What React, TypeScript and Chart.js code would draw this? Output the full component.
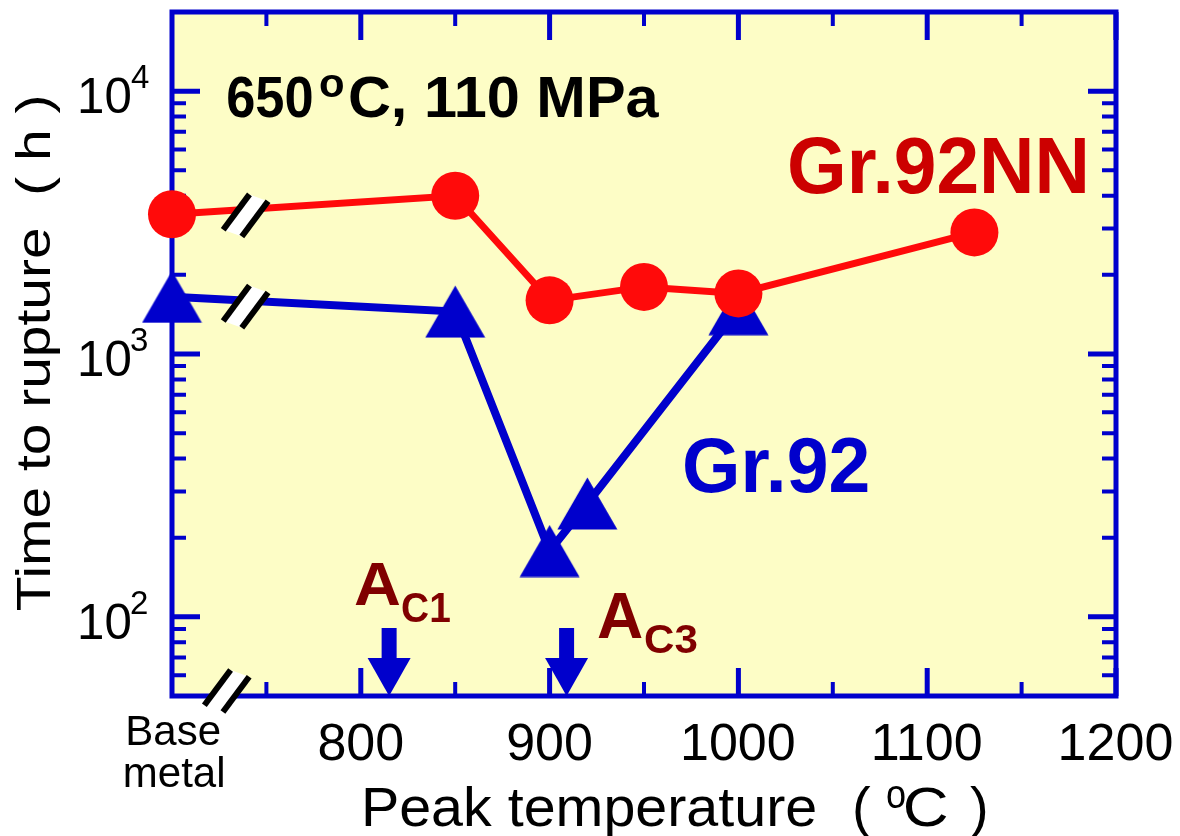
import React, { useEffect, useRef } from 'react';
import { Chart, registerables } from 'chart.js';

Chart.register(...registerables);

// ---- data ----
const nnTemps = [700, 850, 900, 950, 1000, 1125];
const nnHours = [3400, 4000, 1600, 1800, 1700, 2900];
const grTemps = [700, 850, 900, 920, 1000];
const grHours = [1650, 1450, 178, 270, 1480];

const xTickValues = [800, 900, 1000, 1100, 1200];
const xTickLabels = ['800', '900', '1000', '1100', '1200'];
const xMinorValues = [750, 850, 950, 1050, 1150];
const yMajorValues = [100, 1000, 10000];
const yTickExponents = ['2', '3', '4'];
const yMinorValues = [60, 70, 80, 90, 200, 300, 400, 500, 600, 700, 800, 900, 2000, 3000, 4000, 5000, 6000, 7000, 8000, 9000];
const acTemps = [815, 909];
const acSubs = ['C1', 'C3'];
const baseMetalLabel = ['Base', 'metal'];
const lineBreakTemp = 739;
const axisBreakTemp = 729;

const X_MIN = 700, X_MAX = 1200, Y_MIN = 50, Y_MAX = 20000;

const RED = '#FF0A0A';
const BLUE = '#0000CC';
const DARKRED = '#800000';
const TEXTRED = '#CC0000';
const BG = '#FDFDC6';
const FONT = '"Liberation Sans", Arial, sans-serif';

function ink(ctx: CanvasRenderingContext2D, text: string, x: number, baseline: number, font: string, color: string, opts: { anchor?: 'left' | 'right' | 'center'; width?: number } = {}) {
  ctx.save();
  ctx.font = font;
  ctx.fillStyle = color;
  ctx.textAlign = 'left';
  ctx.textBaseline = 'alphabetic';
  const m = ctx.measureText(text);
  const l = m.actualBoundingBoxLeft;
  const r = m.actualBoundingBoxRight;
  const inkW = l + r;
  const sx = opts.width ? opts.width / inkW : 1;
  const w = inkW * sx;
  let left = x;
  if (opts.anchor === 'right') left = x - w;
  else if (opts.anchor === 'center') left = x - w / 2;
  ctx.translate(left + l * sx, baseline);
  ctx.scale(sx, 1);
  ctx.fillText(text, 0, 0);
  ctx.restore();
}

function breakMark(ctx: CanvasRenderingContext2D, cx: number, cy: number) {
  const dx = 0.596, dy = -0.803;
  const px = 0.803, py = 0.596;
  const half = 22;
  const seg = (s: number, a: number) => {
    const ox = cx + px * s + dx * a;
    const oy = cy + py * s + dy * a;
    return [[ox - dx * half, oy - dy * half], [ox + dx * half, oy + dy * half]];
  };
  const a = seg(-9.5, -2.8);
  const b = seg(9.5, 2.8);
  ctx.save();
  ctx.fillStyle = '#FFFFFF';
  ctx.beginPath();
  ctx.moveTo(a[0][0], a[0][1]);
  ctx.lineTo(a[1][0], a[1][1]);
  ctx.lineTo(b[1][0], b[1][1]);
  ctx.lineTo(b[0][0], b[0][1]);
  ctx.closePath();
  ctx.fill();
  ctx.strokeStyle = '#000000';
  ctx.lineWidth = 6;
  ctx.lineCap = 'butt';
  for (const s of [a, b]) {
    ctx.beginPath();
    ctx.moveTo(s[0][0], s[0][1]);
    ctx.lineTo(s[1][0], s[1][1]);
    ctx.stroke();
  }
  ctx.restore();
}

function makeTriangle(): HTMLCanvasElement {
  const c = document.createElement('canvas');
  const w = 61, h = 53;
  c.width = w; c.height = h;
  const g = c.getContext('2d')!;
  g.fillStyle = BLUE;
  g.beginPath();
  g.moveTo(w / 2, 0.5);
  g.lineTo(w - 0.5, h - 0.5);
  g.lineTo(0.5, h - 0.5);
  g.closePath();
  g.fill();
  return c;
}

const decor = {
  id: 'decor',
  beforeDraw(chart: any) {
    const { ctx, chartArea: a } = chart;
    ctx.save();
    ctx.fillStyle = BG;
    ctx.fillRect(a.left, a.top, a.right - a.left, a.bottom - a.top);
    ctx.restore();
  },
  beforeDatasetsDraw(chart: any) {
    const { ctx, chartArea: a } = chart;
    const xs = chart.scales.x, ys = chart.scales.y;
    ctx.save();
    ctx.strokeStyle = BLUE;
    ctx.lineCap = 'butt';
    const major = 28, minor = 14;
    // x ticks (top & bottom)
    const xt = [...xTickValues.map(v => [v, major, 5]), ...xMinorValues.map(v => [v, minor, 4])];
    for (const [v, len, lw] of xt) {
      const px = xs.getPixelForValue(v);
      ctx.lineWidth = lw;
      ctx.beginPath();
      ctx.moveTo(px, a.bottom); ctx.lineTo(px, a.bottom - len);
      ctx.moveTo(px, a.top); ctx.lineTo(px, a.top + len);
      ctx.stroke();
    }
    const yt = [...yMajorValues.map(v => [v, major, 5]), ...yMinorValues.map(v => [v, minor, 4])];
    for (const [v, len, lw] of yt) {
      const py = ys.getPixelForValue(v);
      ctx.lineWidth = lw;
      ctx.beginPath();
      ctx.moveTo(a.left, py); ctx.lineTo(a.left + len, py);
      ctx.moveTo(a.right, py); ctx.lineTo(a.right - len, py);
      ctx.stroke();
    }
    ctx.lineWidth = 5;
    ctx.strokeRect(a.left, a.top, a.right - a.left, a.bottom - a.top);
    ctx.restore();
  },
  afterDatasetsDraw(chart: any) {
    const { ctx, chartArea: a } = chart;
    const xs = chart.scales.x, ys = chart.scales.y;

    // break marks on lines
    const series = [[nnTemps, nnHours], [grTemps, grHours]];
    for (const [t, h] of series) {
      const x0 = xs.getPixelForValue(t[0]), y0 = ys.getPixelForValue(h[0]);
      const x1 = xs.getPixelForValue(t[1]), y1 = ys.getPixelForValue(h[1]);
      const bx = xs.getPixelForValue(lineBreakTemp);
      const by = y0 + (y1 - y0) * (bx - x0) / (x1 - x0);
      breakMark(ctx, bx, by + 6);
    }
    breakMark(ctx, xs.getPixelForValue(axisBreakTemp), a.bottom - 5);

    // arrows
    ctx.save();
    ctx.fillStyle = BLUE;
    for (const t of acTemps) {
      const x = xs.getPixelForValue(t);
      const b = a.bottom;
      ctx.fillRect(x - 7.5, b - 68, 15, 31);
      ctx.beginPath();
      ctx.moveTo(x - 21.5, b - 38);
      ctx.lineTo(x + 21.5, b - 38);
      ctx.lineTo(x, b);
      ctx.closePath();
      ctx.fill();
    }
    ctx.restore();

    // A_C labels
    ink(ctx, 'A', 355, 605, `bold 62px ${FONT}`, DARKRED, { width: 45 });
    ink(ctx, acSubs[0], 402, 622, `bold 43px ${FONT}`, DARKRED, { width: 48 });
    ink(ctx, 'A', 598, 638, `bold 64px ${FONT}`, DARKRED, { width: 44 });
    ink(ctx, acSubs[1], 645, 653, `bold 41px ${FONT}`, DARKRED, { width: 52 });

    // series labels
    ink(ctx, 'Gr.92NN', 790, 193, `bold 79px ${FONT}`, TEXTRED, { width: 295 });
    ink(ctx, 'Gr.92', 685, 492, `bold 78px ${FONT}`, BLUE, { width: 183 });

    // condition
    ink(ctx, '650', 228, 117, `bold 57px ${FONT}`, '#000', { width: 84 });
    ink(ctx, 'o', 320, 97, `bold 40px ${FONT}`, '#000', { width: 23 });
    ink(ctx, 'C, 110 MPa', 350, 117, `bold 57px ${FONT}`, '#000', { width: 310 });

    // x tick labels
    xTickValues.forEach((v, i) => {
      ink(ctx, xTickLabels[i], xs.getPixelForValue(v), 760, `52px ${FONT}`, '#000', { anchor: 'center' });
    });
    const bmx = xs.getPixelForValue(X_MIN) + 2;
    ink(ctx, baseMetalLabel[0], bmx, 745, `42px ${FONT}`, '#000', { anchor: 'center' });
    ink(ctx, baseMetalLabel[1], bmx, 787, `42px ${FONT}`, '#000', { anchor: 'center' });

    // y tick labels
    yMajorValues.forEach((v, i) => {
      const py = ys.getPixelForValue(v);
      ink(ctx, '10', 130, py + 22, `50px ${FONT}`, '#000', { anchor: 'right', width: 50 });
      ink(ctx, yTickExponents[i], 131, py - 3, `33px ${FONT}`, '#000');
    });

    // axis titles
    ink(ctx, 'Peak temperature', 365, 826, `56px ${FONT}`, '#000', { width: 450 });
    ink(ctx, '(', 855, 826, `56px ${FONT}`, '#000');
    ink(ctx, 'o', 887, 808, `40px ${FONT}`, '#000', { width: 18 });
    ink(ctx, 'C', 905, 826, `56px ${FONT}`, '#000', { width: 42 });
    ink(ctx, ')', 970, 826, `56px ${FONT}`, '#000');

    ctx.save();
    ctx.translate(50, 610);
    ctx.rotate(-Math.PI / 2);
    ink(ctx, 'Time to rupture  ( h )', 0, 0, `48px ${FONT}`, '#000', { width: 513 });
    ctx.restore();
  },
};

export default function App() {
  const ref = useRef<HTMLCanvasElement | null>(null);
  useEffect(() => {
    if (!ref.current) return;
    const tri = makeTriangle();
    const chart = new Chart(ref.current, {
      type: 'line',
      data: {
        datasets: [
          {
            label: 'Gr.92NN',
            data: nnTemps.map((t, i) => ({ x: t, y: nnHours[i] })),
            borderColor: RED,
            backgroundColor: RED,
            borderWidth: 7,
            pointStyle: 'circle',
            pointRadius: 24,
            pointBackgroundColor: RED,
            pointBorderWidth: 0,
            pointBorderColor: RED,
            clip: false as any,
            order: 0,
          },
          {
            label: 'Gr.92',
            data: grTemps.map((t, i) => ({ x: t, y: grHours[i] })),
            borderColor: BLUE,
            backgroundColor: BLUE,
            borderWidth: 8,
            pointStyle: tri as any,
            pointRadius: 30,
            pointBorderWidth: 0,
            clip: false as any,
            order: 1,
          },
        ],
      },
      options: {
        animation: false,
        responsive: false,
        events: [],
        layout: { padding: { top: 12, right: 64, left: 0, bottom: 0 }, autoPadding: false } as any,
        plugins: { legend: { display: false }, tooltip: { enabled: false }, title: { display: false } },
        scales: {
          x: {
            type: 'linear',
            min: X_MIN,
            max: X_MAX,
            grid: { display: false },
            border: { display: false },
            ticks: { display: false },
            afterFit: (s: any) => { s.height = 140; },
          },
          y: {
            type: 'logarithmic',
            min: Y_MIN,
            max: Y_MAX,
            grid: { display: false },
            border: { display: false },
            ticks: { display: false },
            afterFit: (s: any) => { s.width = 172; },
          },
        },
      },
      plugins: [decor],
    });
    return () => chart.destroy();
  }, []);
  return (
    <div style={{ position: 'absolute', left: 0, top: 0, width: 1180, height: 836, background: '#fff' }}>
      <canvas ref={ref} width={1180} height={836} style={{ display: 'block' }} />
    </div>
  );
}
